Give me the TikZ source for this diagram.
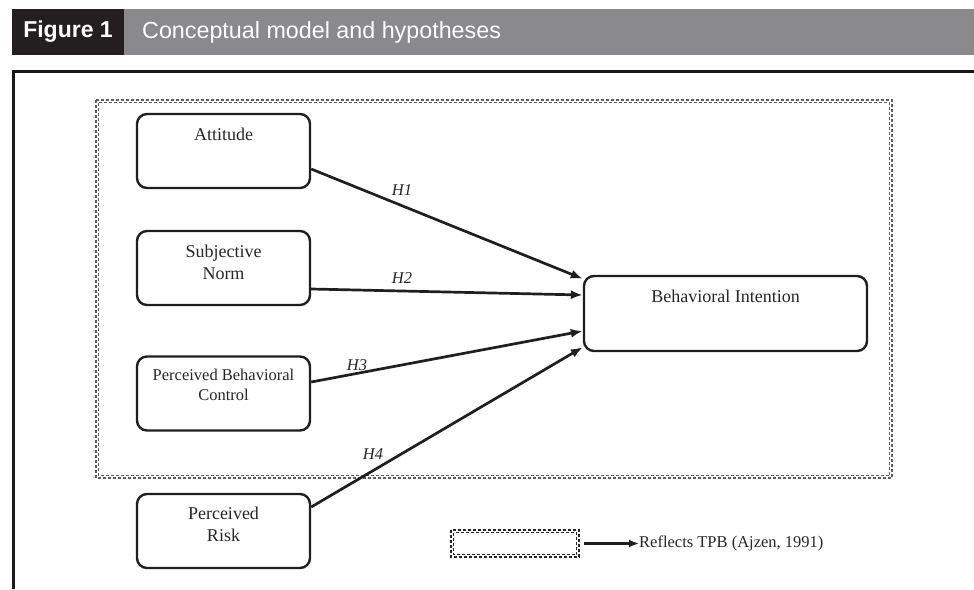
\documentclass[tikz,border=0pt]{standalone}
\usepackage{fontspec}
\setmainfont{Liberation Serif}
\setsansfont{Liberation Sans}
\usetikzlibrary{arrows.meta,calc}
\definecolor{hdrdark}{HTML}{231F20}
\definecolor{hdrgrey}{HTML}{8A8A8C}
\definecolor{dashgrey}{HTML}{5E5E60}
\tikzset{
  varbox/.style={draw=black!88, line width=2.4pt, rounded corners=10pt, minimum width=173pt, minimum height=74pt, inner sep=0pt},
  boxtext/.style={align=center, font=\fontsize{18}{22}\selectfont, text=black!85, inner sep=0pt},
  smalltext/.style={align=center, font=\fontsize{16.5}{19.5}\selectfont, text=black!85, inner sep=0pt},
  hlabel/.style={font=\fontsize{16.5}{18}\selectfont\itshape, text=black!85, inner sep=0pt},
  link/.style={line width=2.7pt, draw=black!88, -{Latex[length=12pt,width=9pt]}},
  dashframe/.style={draw=dashgrey, line width=1.2pt, dash pattern=on 3pt off 2pt},
}
\begin{document}
\begin{tikzpicture}[x=1pt,y=-1pt]
\useasboundingbox (0,0) rectangle (974,589);
% header
\node[fill=hdrdark, minimum width=112pt, minimum height=46pt, inner sep=0pt, text=white, font=\sffamily\bfseries\fontsize{23}{26}\selectfont] (fig) at (68,32) {Figure 1};
\node[fill=hdrgrey, minimum width=850pt, minimum height=46pt, inner sep=0pt] (bar) at (549,32) {};
\node[anchor=west, text=white, font=\sffamily\fontsize{23.3}{26}\selectfont, inner sep=0pt] (title) at (142,32) {Conceptual model and hypotheses};
% outer frame
\draw[line width=3pt, draw=black!90] (13,589) -- (13,71) -- (974,71);
% TPB dashed frame (double)
\draw[dashframe] (96,100) rectangle (892,478);
\draw[dashframe] (98.5,102.5) rectangle (889.5,475.5);
% boxes
\node[varbox] (att) at (223.5,151) {};
\node[boxtext] (attT) at (223.5,134) {Attitude};
\node[varbox] (sn) at (223.5,268) {};
\node[boxtext] (snT) at (223.5,262) {Subjective\\Norm};
\node[varbox] (pbc) at (223.5,393.5) {};
\node[smalltext] (pbcT) at (223.5,385) {Perceived Behavioral\\Control};
\node[varbox] (pr) at (223.5,531) {};
\node[boxtext] (prT) at (223.5,524) {Perceived\\Risk};
\node[varbox, minimum width=283pt, minimum height=75pt] (bi) at (725.5,313.5) {};
\node[boxtext] (biT) at (725.5,296) {Behavioral Intention};
% arrows
\draw[link] ($(att.east)+(0,18)$) -- ($(bi.north west)+(0,4)$);
\draw[link] ($(sn.east)+(0,21)$) -- ($(bi.west)+(0,-18.5)$);
\draw[link] ($(pbc.east)+(0,-11.5)$) -- ($(bi.west)+(0,17.5)$);
\draw[link] ($(pr.east)+(0,-24)$) -- ($(bi.south west)+(0,-5)$);
% labels
\node[hlabel] (h1) at (402,190) {H1};
\node[hlabel] (h2) at (402,278) {H2};
\node[hlabel] (h3) at (357,365) {H3};
\node[hlabel] (h4) at (373,454) {H4};
% legend
\draw[dashframe, draw=black!85] (451,530) rectangle (579,557);
\draw[dashframe, draw=black!85] (453.5,532.5) rectangle (576.5,554.5);
\coordinate (legR) at (580,543.5);
\node[anchor=west, font=\fontsize{16.5}{19}\selectfont, text=black!85, inner sep=0pt] (legT) at (639,543.5) {Reflects TPB (Ajzen, 1991)};
\draw[line width=2.4pt, draw=black!88, -{Latex[length=10pt,width=8pt]}] ($(legR)+(4,0)$) -- (legT.west);
\end{tikzpicture}
\end{document}
